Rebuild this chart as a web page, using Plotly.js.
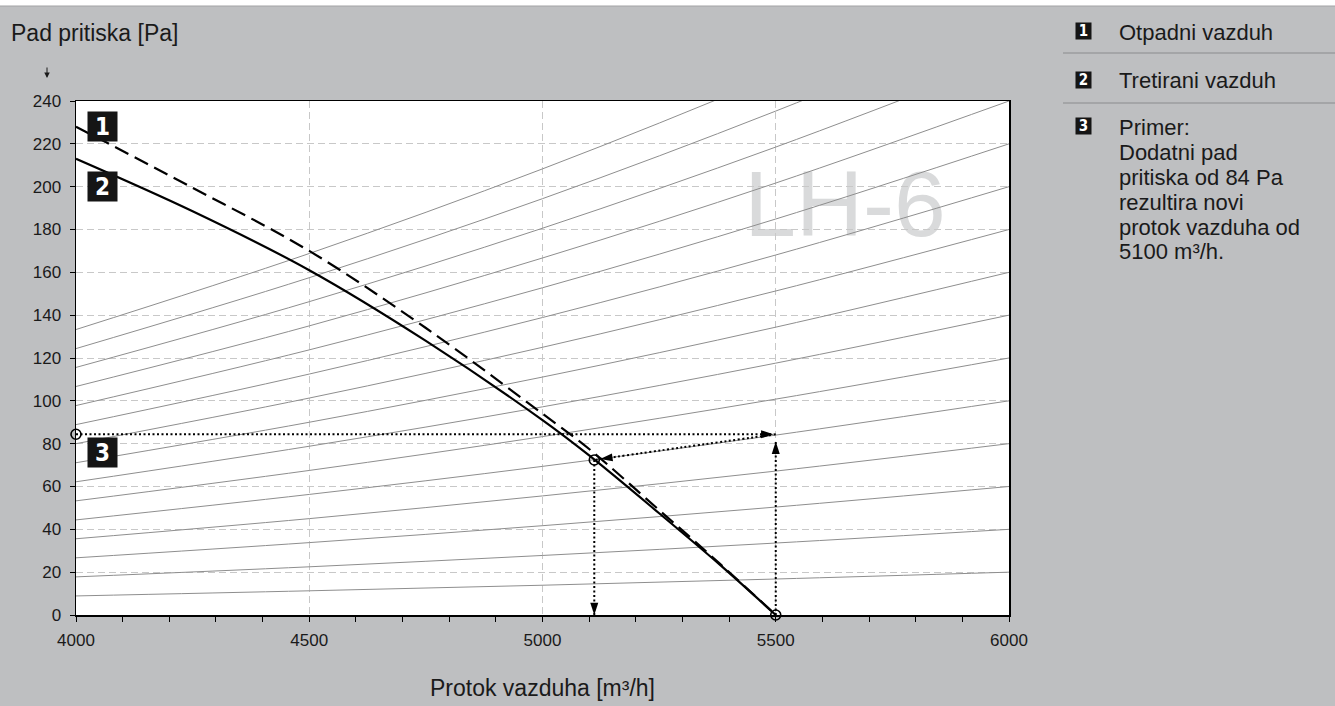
<!DOCTYPE html>
<html><head><meta charset="utf-8">
<script src="https://cdn.plot.ly/plotly-3.0.1.min.js"></script>
<style>html,body{margin:0;padding:0;background:#bebfc1;}#chart{width:1335px;height:706px;}</style>
</head><body><div id="chart"></div>
<script>
// ---------- data ----------
const xTitle = 'Protok vazduha [m³/h]';
const yTitle = 'Pad pritiska [Pa]';
const watermark = 'LH-6';

// system (resistance) curves: pressure drop at these flows
const sysQ = [4000, 4500, 5000, 5500, 6000];
const sysCurves = [
  [8.9, 11.3, 13.9, 16.8, 20],
  [17.8, 22.5, 27.8, 33.6, 40],
  [26.7, 33.8, 41.7, 50.4, 60],
  [35.6, 45, 55.6, 67.2, 80],
  [44.4, 56.3, 69.4, 84, 100],
  [53.3, 67.5, 83.3, 100.8, 120],
  [62.2, 78.8, 97.2, 117.6, 140],
  [71.1, 90, 111.1, 134.4, 160],
  [80, 101.3, 125, 151.3, 180],
  [88.9, 112.5, 138.9, 168.1, 200],
  [97.8, 123.8, 152.8, 184.9, 220],
  [106.7, 135, 166.7, 201.7, 240],
  [115.6, 146.3, 180.6, 218.5, 260],
  [124.4, 157.5, 194.4, 235.3, 280],
  [133.3, 168.8, 208.3, 252.1, 300]
];

// fan curves
const fanQ = [4000, 4250, 4500, 4750, 5000, 5100, 5250, 5380, 5500];
const fan1Dp = [228, 199.5, 170, 134, 94, 77.5, 49, 24, 0];       // 1 Otpadni vazduh (dashed)
const fan2Dp = [213, 188.5, 161, 128, 91, 74.5, 47.5, 23.5, 0];   // 2 Tretirani vazduh (solid)

// example (3)
const exHorizQ = [4000, 5495], exHorizDp = [84.4, 84.4];
const exUpQ = [5500, 5500], exUpDp = [0, 81];
const exCurveQ = [5500, 5300, 5111], exCurveDp = [84.4, 78.3, 72.4];
const exDownQ = [5111, 5111], exDownDp = [72.4, 0];
const circleQ = [4000, 5111, 5500], circleDp = [84.4, 72.4, 0];
const arrowQ = [5495, 5500, 5111, 5111], arrowDp = [84.4, 81, 72.4, 0];

// legend
const legendNums = ['1', '2', '3'];
const legendTexts = ['Otpadni vazduh', 'Tretirani vazduh'];
const exampleLines = ['Primer:', 'Dodatni pad', 'pritiska od 84 Pa', 'rezultira novi', 'protok vazduha od', '5100 m³/h.'];

// ---------- geometry helpers (pixel -> paper) ----------
const L = 76, R = 1009, T = 101, B = 615;
const px = x => (x - L) / (R - L);
const py = y => (B - y) / (B - T);

const FONT = 'Liberation Sans, Arial, Helvetica, sans-serif';
const NARROW = 'Liberation Sans Narrow, DejaVu Sans Condensed, Liberation Sans, Arial, sans-serif';

const traces = [];
sysCurves.forEach(c => traces.push({
  x: sysQ, y: c, mode: 'lines', type: 'scatter', hoverinfo: 'skip',
  line: {color: '#8e8e8e', width: 1, shape: 'spline', smoothing: 1}
}));
traces.push({x: fanQ, y: fan2Dp, mode: 'lines', type: 'scatter', name: 'Tretirani vazduh',
  line: {color: '#000', width: 2.2, shape: 'spline', smoothing: 1}});
traces.push({x: fanQ, y: fan1Dp, mode: 'lines', type: 'scatter', name: 'Otpadni vazduh',
  line: {color: '#000', width: 2.2, dash: '15px,7px', shape: 'spline', smoothing: 1}});
const dotLine = {color: '#000', width: 2, dash: '2px,2.5px'};
[[exHorizQ, exHorizDp], [exUpQ, exUpDp], [exCurveQ, exCurveDp], [exDownQ, exDownDp]].forEach(p =>
  traces.push({x: p[0], y: p[1], mode: 'lines', type: 'scatter', line: Object.assign({shape: 'spline'}, dotLine), hoverinfo: 'skip'}));
traces.push({x: arrowQ, y: arrowDp, mode: 'markers', type: 'scatter', cliponaxis: false, hoverinfo: 'skip',
  marker: {symbol: 'arrow', size: 13, color: '#000', angle: [90, 0, 262, 180], standoff: [0, 0, 6, 0], line: {width: 0}}});
traces.push({x: circleQ, y: circleDp, mode: 'markers', type: 'scatter', cliponaxis: false, hoverinfo: 'skip',
  marker: {symbol: 'circle-open', size: 10, color: '#000', line: {width: 1.6, color: '#000'}}});

const annotations = [];
const base = {xref: 'paper', yref: 'paper', showarrow: false, xanchor: 'center', yanchor: 'middle'};
// numbered boxes inside the plot
[[legendNums[0], 126], [legendNums[1], 186], [legendNums[2], 452]].forEach(b => annotations.push(Object.assign({}, base, {
  x: px(102), y: py(b[1]), text: '<b>' + b[0] + '</b>',
  font: {family: NARROW, size: 24, color: '#fff'}, bgcolor: '#151515', width: 27, height: 27, borderpad: 1
})));
// y-axis small arrow (pointing down)
annotations.push({xref: 'paper', yref: 'paper', x: px(47), y: py(78), text: '', showarrow: true,
  axref: 'pixel', ayref: 'pixel', ax: 0, ay: -12, arrowhead: 2, arrowsize: 1.1, arrowwidth: 1, arrowcolor: '#1a1a1a'});
// right-hand legend
[[legendNums[0], 31], [legendNums[1], 80], [legendNums[2], 126]].forEach(b => annotations.push(Object.assign({}, base, {
  x: px(1083), y: py(b[1]), text: '<b>' + b[0] + '</b>',
  font: {family: NARROW, size: 15, color: '#fff'}, bgcolor: '#151515', width: 15, height: 16, borderpad: 0
})));
legendTexts.forEach((t, i) => annotations.push(Object.assign({}, base, {
  x: px(1117), y: py(i === 0 ? 32 : 81), xanchor: 'left',
  text: t, font: {family: FONT, size: 22, color: '#1a1a1a'}
})));
exampleLines.forEach((t, i) => annotations.push(Object.assign({}, base, {
  x: px(1117), y: py(127 + 25 * i), xanchor: 'left',
  text: t, font: {family: FONT, size: 22, color: '#1a1a1a'}
})));

const shapes = [
  {type: 'rect', xref: 'paper', yref: 'paper', x0: px(0), x1: px(1335), y0: py(6), y1: py(0),
   fillcolor: '#ffffff', line: {width: 0}, layer: 'above'},
  {type: 'line', xref: 'paper', yref: 'paper', x0: px(0), x1: px(1335), y0: py(6), y1: py(6),
   line: {color: '#a2a3a5', width: 1}},
  {type: 'line', xref: 'paper', yref: 'paper', x0: px(1063), x1: px(1335), y0: py(53), y1: py(53),
   line: {color: '#8a8b8d', width: 1}},
  {type: 'line', xref: 'paper', yref: 'paper', x0: px(1063), x1: px(1335), y0: py(103), y1: py(103),
   line: {color: '#8a8b8d', width: 1}},
  {type: 'rect', xref: 'paper', yref: 'paper', x0: px(745), x1: px(945), y0: py(240), y1: py(150),
   line: {width: 0}, fillcolor: 'rgba(0,0,0,0)', layer: 'below',
   label: {text: watermark, font: {family: FONT, size: 93, color: '#d9dadb'}, textposition: 'middle center'}}
];

const axisCommon = {
  showline: true, linecolor: '#000', linewidth: 1.5, mirror: true,
  ticks: 'outside', ticklen: 5, tickcolor: '#000', tickwidth: 1,
  showgrid: true, gridcolor: '#c8c8c8', gridwidth: 1, griddash: '7px,4px',
  zeroline: false, tickfont: {family: FONT, size: 17, color: '#1a1a1a'}, fixedrange: true
};

const layout = {
  width: 1335, height: 706,
  margin: {l: L, r: 1335 - R, t: T, b: 706 - B, pad: 0},
  paper_bgcolor: '#bebfc1', plot_bgcolor: '#ffffff',
  showlegend: false,
  font: {family: FONT, color: '#1a1a1a'},
  title: {text: yTitle, xref: 'container', yref: 'container', x: 11 / 1335, xanchor: 'left',
          y: 1 - 33 / 706, yanchor: 'middle', font: {family: FONT, size: 23, color: '#1a1a1a'}},
  xaxis: Object.assign({}, axisCommon, {
    range: [4000, 6000], tick0: 4000, dtick: 500, ticklabelstandoff: 4,
    minor: {dtick: 100, ticks: 'outside', ticklen: 5, tickcolor: '#000', showgrid: false},
    title: {text: xTitle, font: {family: FONT, size: 23, color: '#1a1a1a'}, standoff: 31}
  }),
  yaxis: Object.assign({}, axisCommon, {
    range: [0, 240], tick0: 0, dtick: 20, ticklabelstandoff: 5, title: {text: ''}
  }),
  annotations: annotations,
  shapes: shapes
};

Plotly.newPlot('chart', traces, layout, {displayModeBar: false, staticPlot: true});
</script>
</body></html>
